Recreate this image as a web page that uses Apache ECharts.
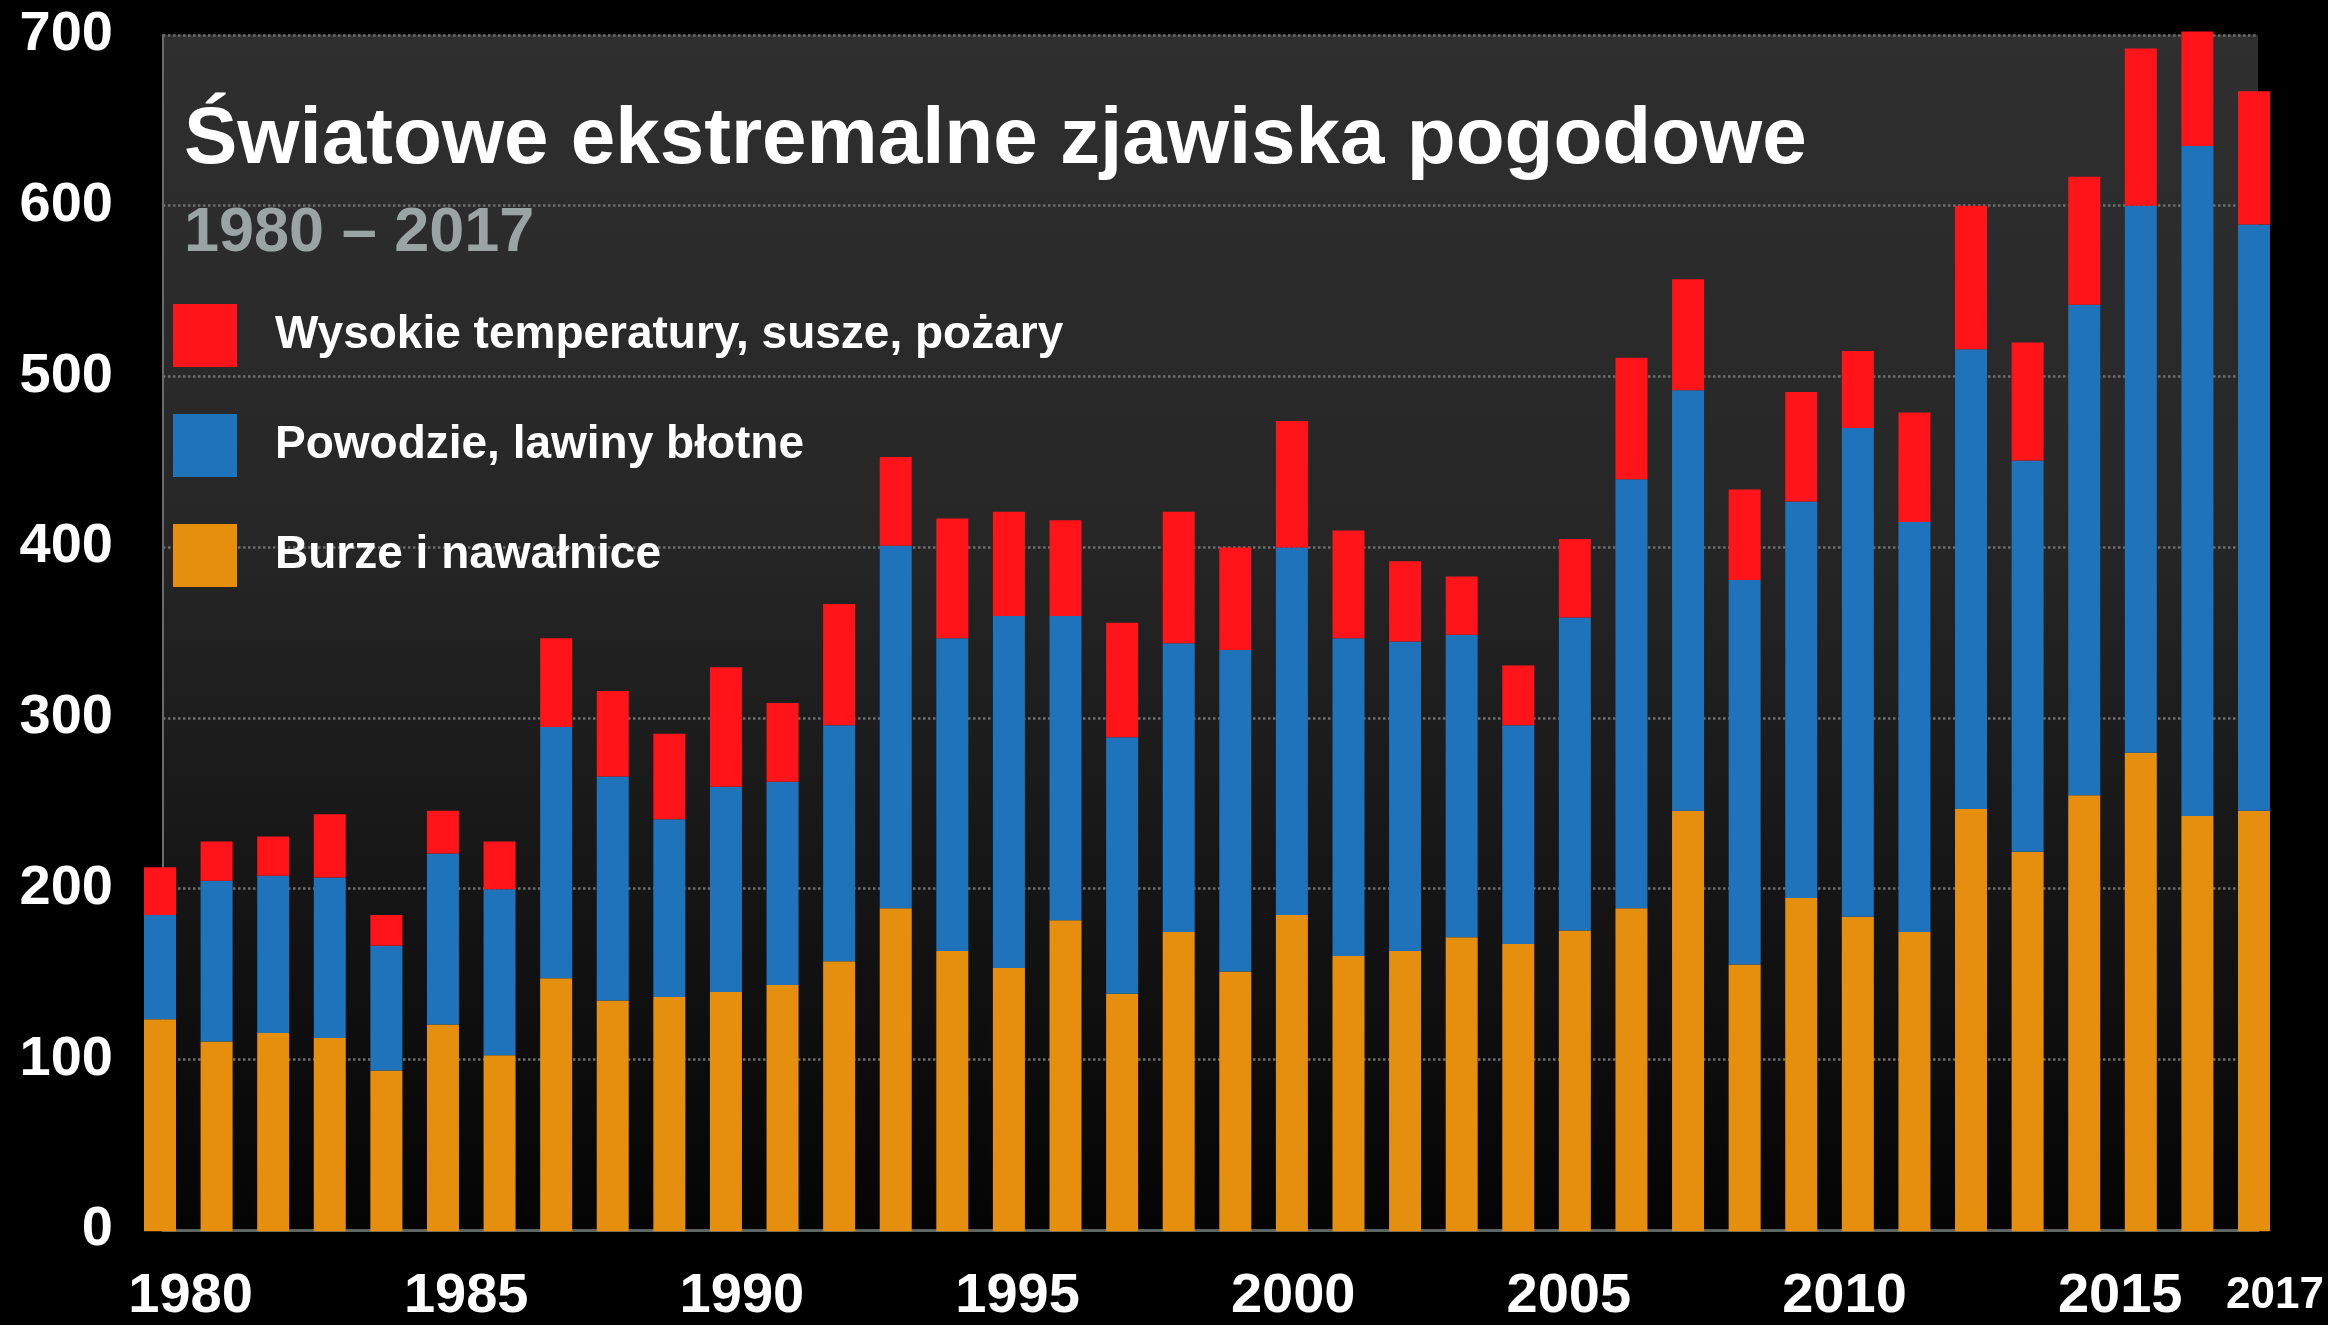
<!DOCTYPE html>
<html><head><meta charset="utf-8">
<script src="https://cdn.jsdelivr.net/npm/echarts@6/dist/echarts.min.js"></script>
<style>html,body{margin:0;padding:0;background:#000;}#c{width:2328px;height:1325px;}</style>
</head><body><div id="c"></div>
<script>
// ---- data ----
const years = ['1980','1981','1982','1983','1984','1985','1986','1987','1988','1989',
  '1990','1991','1992','1993','1994','1995','1996','1997','1998','1999',
  '2000','2001','2002','2003','2004','2005','2006','2007','2008','2009',
  '2010','2011','2012','2013','2014','2015','2016','2017'];
// Burze i nawałnice (orange)
const storms = [124,111,116,113,94,121,103,148,135,137,
  140,144,158,189,164,154,182,139,175,152,
  185,161,164,172,168,176,189,246,156,195,
  184,175,247,222,255,280,243,246];
// Powodzie, lawiny błotne (blue)
const floods = [61,94,92,94,73,100,97,147,131,104,
  120,119,138,212,183,206,178,150,169,188,
  215,186,181,177,128,183,251,246,225,232,
  286,240,269,229,287,320,392,343];
// Wysokie temperatury, susze, pożary (red)
const heat = [28,23,23,37,18,25,28,52,50,50,
  70,46,71,52,70,61,56,67,77,60,
  74,63,47,34,35,46,71,65,53,64,
  45,64,84,69,75,92,67,78];
const seriesNames = ['Burze i nawałnice','Powodzie, lawiny błotne','Wysokie temperatury, susze, pożary'];
const seriesColors = ['#E68F0F','#1F73BA','#FF1519'];
const titleText = 'Światowe ekstremalne zjawiska pogodowe';
const subtitleText = '1980 – 2017';
const yMin = 0, yMax = 700, yStep = 100;

const FONT = '"Liberation Sans", Arial, sans-serif';
const chart = echarts.init(document.getElementById('c'), null, {renderer:'canvas'});
const bg = new echarts.graphic.LinearGradient(0,0,0,1,[
  {offset:0, color:'#2f2f2f'},{offset:0.4, color:'#272727'},
  {offset:0.7, color:'#161616'},{offset:1, color:'#040404'}]);
const option = {
  backgroundColor: '#000',
  animation: false,
  title: [
    {text: titleText, left: 184, top: 101, padding: 0,
     textStyle: {color:'#ffffff', fontSize: 80, fontWeight:'bold', fontFamily: FONT}},
    {text: subtitleText, left: 184, top: 202, padding: 0,
     textStyle: {color:'#9aa4a2', fontSize: 63, fontWeight:'bold', fontFamily: FONT}}
  ],
  legend: {
    orient:'vertical', left: 173, top: 304, padding: 0,
    itemWidth: 64, itemHeight: 63, itemGap: 47, icon: 'rect', selectedMode: false,
    data: [seriesNames[2], seriesNames[1], seriesNames[0]],
    textStyle: {color:'#ffffff', fontSize: 46, fontWeight:'bold', fontFamily: FONT, padding:[0,0,0,33]}
  },
  grid: [
    {left: 131.7, right: 45.7, top: 34.8, bottom: 93.8},
    {left: 163, right: 70, top: 34.8, bottom: 93.8, show: true, borderWidth: 0, backgroundColor: bg}
  ],
  xAxis: [
    {type:'category', data: years, gridIndex: 0,
     axisLine:{show:false}, axisTick:{show:false},
     axisLabel:{interval:0, margin: 43, color:'#fff', fontSize: 44, fontWeight:'bold', fontFamily: FONT,
       padding:[0,0,0,42],
       formatter: (v, i) => (i === years.length - 1 ? v : '')}},
    {type:'category', data: years, gridIndex: 1,
     axisLine:{show:true, onZero:false, lineStyle:{color:'#5e6664', width:3}}, axisTick:{show:false},
     axisLabel:{interval: (i) => i % 5 === 0, margin: 39, color:'#fff', fontSize: 56, fontWeight:'bold', fontFamily: FONT}}
  ],
  yAxis: [
    {type:'value', gridIndex: 0, min: yMin, max: yMax, interval: yStep, show: false, splitLine:{show:false}},
    {type:'value', gridIndex: 1, min: yMin, max: yMax, interval: yStep,
     axisLine:{show:true, lineStyle:{color:'#6a6a6a', width:2}}, axisTick:{show:false},
     splitLine:{show:true, lineStyle:{color:'#6c6f6e', width:2.5, type:[2.5,2.5]}},
     axisLabel:{margin: 50, color:'#fff', fontSize: 56, fontWeight:'bold', fontFamily: FONT}}
  ],
  series: [
    {name: seriesNames[0], type:'bar', stack:'all', xAxisIndex:0, yAxisIndex:0, barWidth: 32, clip:false,
     itemStyle:{color: seriesColors[0]}, data: storms},
    {name: seriesNames[1], type:'bar', stack:'all', xAxisIndex:0, yAxisIndex:0, barWidth: 32, clip:false,
     itemStyle:{color: seriesColors[1]}, data: floods},
    {name: seriesNames[2], type:'bar', stack:'all', xAxisIndex:0, yAxisIndex:0, barWidth: 32, clip:false,
     itemStyle:{color: seriesColors[2]}, data: heat}
  ]
};
chart.setOption(option);
</script>
</body></html>
